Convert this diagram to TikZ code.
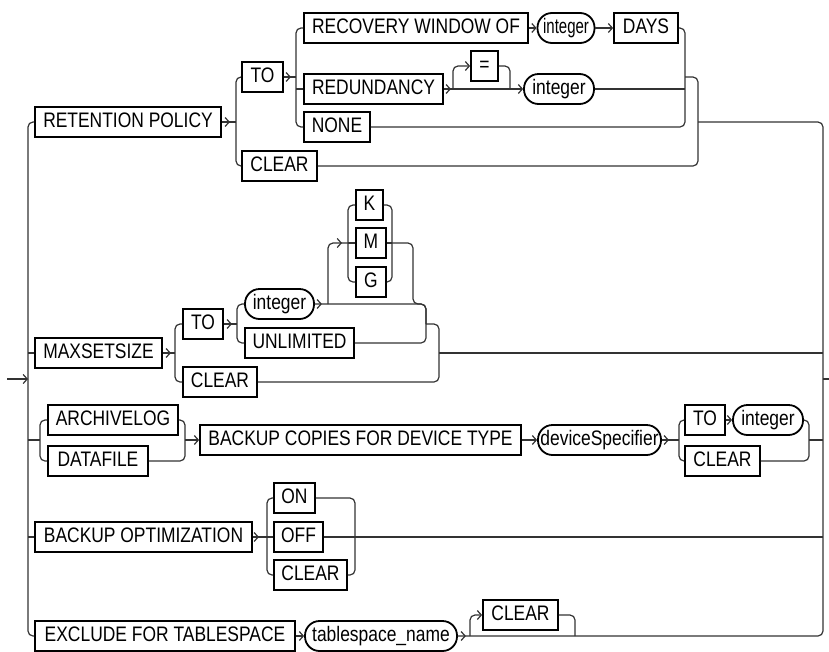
\documentclass[tikz,border=0pt]{standalone}
\usepackage{graphicx}
\usepackage{fontspec}
\setmainfont{Liberation Sans}[FakeStretch=0.83]
\usetikzlibrary{arrows.meta,decorations.markings}
\begin{document}
\begin{tikzpicture}[x=1pt,y=-1pt,
  font=\fontsize{21}{24}\selectfont,
  conn/.style={line width=1.2pt,draw=black!80,rounded corners=5pt},
  kw/.style={draw=black,line width=1.8pt,rectangle,inner sep=0pt,minimum height=30pt,text height=15pt,text depth=5pt,minimum width=#1},
  ov/.style={draw=black,line width=1.8pt,rectangle,rounded corners=14.5pt,inner sep=0pt,minimum height=30pt,text height=15pt,text depth=5pt,minimum width=#1},
  arr/.style={-{Straight Barb[length=4pt,width=9pt]}},
  chv/.style={postaction={decorate,decoration={markings,mark=at position #1 with {\arrow{Straight Barb[length=4pt,width=9pt]}}}}},
  chv/.default=8pt]
\useasboundingbox (0,0) rectangle (829,651);

% ---------- nodes ----------
\node[kw=186pt] (rp) at (128,122) {RETENTION POLICY};
\node[kw=41pt] (to1) at (262.5,77) {TO};
\node[kw=75pt] (clr1) at (279.5,166) {CLEAR};
\node[kw=224pt] (rwo) at (416,28) {RECOVERY WINDOW OF};
\node[ov=57pt] (int1) at (566,28) {\scalebox{0.86}[1]{integer}};
\node[kw=64pt] (days) at (646,28) {DAYS};
\node[kw=139pt] (red) at (373.5,89) {REDUNDANCY};
\node[kw=27pt] (eq) at (484.5,66) {=};
\node[ov=70pt] (int2) at (559,89) {integer};
\node[kw=66pt] (none) at (337,127) {NONE};

\node[kw=127pt] (mss) at (98.5,353) {MAXSETSIZE};
\node[kw=40pt] (to2) at (203,324) {TO};
\node[kw=74pt] (clr2) at (220,382) {CLEAR};
\node[ov=69pt] (int3) at (279.5,304) {integer};
\node[kw=109pt] (unl) at (299.5,343) {UNLIMITED};
\node[kw=27pt] (kk) at (369.5,205) {K};
\node[kw=30pt] (mm) at (371,243) {M};
\node[kw=30pt] (gg) at (371,282) {G};

\node[kw=130pt] (arc) at (113,420) {ARCHIVELOG};
\node[kw=100pt] (dat) at (98,461) {DATAFILE};
\node[kw=321pt] (bcd) at (360.5,440) {BACKUP COPIES FOR DEVICE TYPE};
\node[ov=123pt] (dev) at (599.5,440) {deviceSpecifier};
\node[kw=40pt] (to3) at (705,420) {TO};
\node[ov=70pt] (int4) at (768,420) {integer};
\node[kw=75pt] (clr3) at (722.5,461) {CLEAR};

\node[kw=217pt] (bo) at (143.5,537) {BACKUP OPTIMIZATION};
\node[kw=41pt] (on) at (294.5,498) {ON};
\node[kw=49pt] (off) at (298.5,537) {OFF};
\node[kw=73pt] (clr4) at (310.5,575) {CLEAR};

\node[kw=260pt] (exc) at (165,636) {EXCLUDE FOR TABLESPACE};
\node[ov=152pt] (ts) at (381,636) {tablespace\_name};
\node[kw=75pt] (clr5) at (520.5,615) {CLEAR};

% ---------- junction coordinates ----------
\coordinate (start) at (7,379);
\coordinate (trunkL) at (28,379);
\coordinate (trunkR) at (823,379);
\coordinate (endR) at (829,379);
\coordinate (b1) at (236,122);
\coordinate (b2) at (296,77);
\coordinate (m2) at (685,77);
\coordinate (m1) at (698,122);
\coordinate (r1) at (453,89);
\coordinate (r2) at (510,89);
\coordinate (c1) at (175,353);
\coordinate (c2) at (237,324);
\coordinate (k1) at (328,304);
\coordinate (k2) at (348,243);
\coordinate (k3) at (392,243);
\coordinate (k4) at (413,304);
\coordinate (d1) at (426,324);
\coordinate (d2) at (439,353);
\coordinate (a1) at (40,440);
\coordinate (a2) at (185,440);
\coordinate (a3) at (679,440);
\coordinate (a4) at (809,440);
\coordinate (o1) at (267,537);
\coordinate (o2) at (355,537);
\coordinate (e1) at (470,636);
\coordinate (e2) at (575,636);

% ---------- trunks ----------
\draw[conn,arr] (start) -- (trunkL);
\draw[conn] (rp.west) -| (trunkL);
\draw[conn] (exc.west) -| (trunkL);
\draw[conn] (m1) -| (trunkR);
\draw[conn,chv] (ts.east) -| (trunkR);
\draw[conn] (trunkR) -- (endR);

% ---------- row 1 ----------
\draw[conn,chv] (rp.east) -- (b1);
\draw[conn] (to1.west) -| (b1) |- (clr1.west);
\draw[conn,chv=7pt] (to1.east) -- (b2);
\draw[conn] (rwo.west) -| (b2) |- (none.west);
\draw[conn] (b2 |- red.west) -- (red.west);
\draw[conn,arr] (rwo.east) -- (int1.west);
\draw[conn,arr] (int1.east) -- (days.west);
\draw[conn,chv=7pt] (red.east) -- (r1);
\draw[conn,arr] (r1) -- (int2.west);
\draw[conn,arr] (r1) |- (eq.west);
\draw[conn] (eq.east) -| (r2);
\draw[conn] (days.east) -| (m2) |- (none.east);
\draw[conn] (int2.east) -- (m2 |- int2.east);
\draw[conn] (m2) -| (m1) |- (clr1.east);

% ---------- row 2 ----------
\draw[conn] (trunkL |- mss.west) -- (mss.west);
\draw[conn,chv] (mss.east) -- (c1);
\draw[conn] (to2.west) -| (c1) |- (clr2.west);
\draw[conn,chv] (to2.east) -- (c2);
\draw[conn] (int3.west) -| (c2) |- (unl.west);
\draw[conn,chv=7pt] (int3.east) -| (d1);
\draw[conn] (unl.east) -| (d1);
\draw[conn,chv=-6pt] (k1) |- (k2);
\draw[conn] (kk.west) -| (k2) |- (gg.west);
\draw[conn] (k2) -- (mm.west);
\draw[conn] (kk.east) -| (k3) |- (gg.east);
\draw[conn] (mm.east) -- (k3);
\draw[conn] (k3) -| (k4) -| (d1);
\draw[conn] (d1) -| (d2) |- (clr2.east);
\draw[conn] (d2) -- (trunkR |- d2);

% ---------- row 3 ----------
\draw[conn] (trunkL |- a1) -- (a1);
\draw[conn] (arc.west) -| (a1) |- (dat.west);
\draw[conn] (arc.east) -| (a2) |- (dat.east);
\draw[conn,arr] (a2) -- (bcd.west);
\draw[conn,arr] (bcd.east) -- (dev.west);
\draw[conn,chv=7pt] (dev.east) -- (a3);
\draw[conn] (to3.west) -| (a3) |- (clr3.west);
\draw[conn,arr] (to3.east) -- (int4.west);
\draw[conn] (int4.east) -| (a4) |- (clr3.east);
\draw[conn] (a4) -- (trunkR |- a4);

% ---------- row 4 ----------
\draw[conn] (trunkL |- bo.west) -- (bo.west);
\draw[conn,chv=6pt] (bo.east) -- (o1);
\draw[conn] (on.west) -| (o1) |- (clr4.west);
\draw[conn] (o1) -- (off.west);
\draw[conn] (on.east) -| (o2) |- (clr4.east);
\draw[conn] (off.east) -- (trunkR |- off.east);

% ---------- row 5 ----------
\draw[conn,arr] (exc.east) -- (ts.west);
\draw[conn,arr] (e1) |- (clr5.west);
\draw[conn] (clr5.east) -| (e2);
\end{tikzpicture}
\end{document}
